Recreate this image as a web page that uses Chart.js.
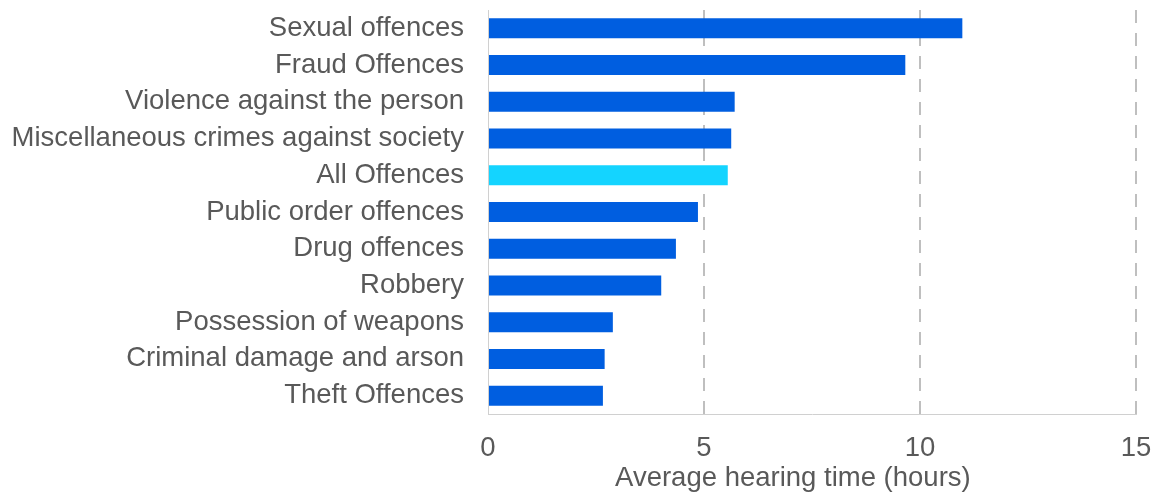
<!DOCTYPE html>
<html>
<head>
<meta charset="utf-8">
<script src="https://cdn.jsdelivr.net/npm/chart.js@4/dist/chart.umd.min.js"></script>
<style>
  html, body { margin: 0; padding: 0; background: #ffffff; }
  #wrap { width: 1156px; height: 495px; }
</style>
</head>
<body>
<div id="wrap"><canvas id="chart" width="1156" height="495"></canvas></div>
<script>
// Offence groups, longest average hearing first
const categories = [
  "Sexual offences",
  "Fraud Offences",
  "Violence against the person",
  "Miscellaneous crimes against society",
  "All Offences",
  "Public order offences",
  "Drug offences",
  "Robbery",
  "Possession of weapons",
  "Criminal damage and arson",
  "Theft Offences"
];

// Average hearing time in hours
const hearingHours = [10.98, 9.66, 5.71, 5.63, 5.55, 4.86, 4.35, 4.01, 2.89, 2.70, 2.66];

// x-axis ticks
const xTicks = [0, 5, 10, 15];

const axisTitle = "Average hearing time (hours)";

const BLUE = "#005EE0";
const CYAN = "#14D4FF";
const TEXT = "#595959";
const FONT = "'Liberation Sans', Arial, sans-serif";

const barColors = categories.map(c => c === "All Offences" ? CYAN : BLUE);

new Chart(document.getElementById("chart"), {
  type: "bar",
  data: {
    labels: categories,
    datasets: [{
      data: hearingHours,
      backgroundColor: barColors,
      borderWidth: 0,
      barPercentage: 0.545,
      categoryPercentage: 1.0
    }]
  },
  options: {
    indexAxis: "y",
    responsive: false,
    devicePixelRatio: 1,
    animation: false,
    layout: { padding: { left: 0, right: 20, top: 10, bottom: 0 } },
    plugins: {
      legend: { display: false },
      tooltip: { enabled: false }
    },
    scales: {
      x: {
        min: 0,
        max: 15,
        afterBuildTicks: scale => { scale.ticks = xTicks.map(v => ({ value: v })); },
        afterFit: scale => {
          scale.height = 81;
          scale.paddingLeft = 0;
          scale.paddingRight = 0;
        },
        grid: {
          drawTicks: false,
          color: ctx => (ctx.tick && ctx.tick.value === 0) ? "rgba(0,0,0,0)" : "#BFBFBF",
          lineWidth: 2
        },
        border: {
          display: true,
          color: "#D0D0D0",
          width: 1,
          dash: [13, 10]
        },
        ticks: {
          color: TEXT,
          font: { family: FONT, size: 27.5 },
          padding: 18,
          maxRotation: 0
        },
        title: {
          display: true,
          text: axisTitle + "\u00a0\u00a0\u00a0\u00a0\u00a0",
          color: TEXT,
          font: { family: FONT, size: 27.5 },
          padding: { top: 0, bottom: 0 }
        }
      },
      y: {
        afterFit: scale => {
          scale.width = 488;
          scale.paddingTop = 0;
          scale.paddingBottom = 0;
        },
        grid: { display: false, drawTicks: false },
        border: { display: true, color: "#D0D0D0", width: 1 },
        ticks: {
          color: TEXT,
          font: { family: FONT, size: 27.5 },
          padding: 24,
          autoSkip: false
        }
      }
    }
  }
});
</script>
</body>
</html>
